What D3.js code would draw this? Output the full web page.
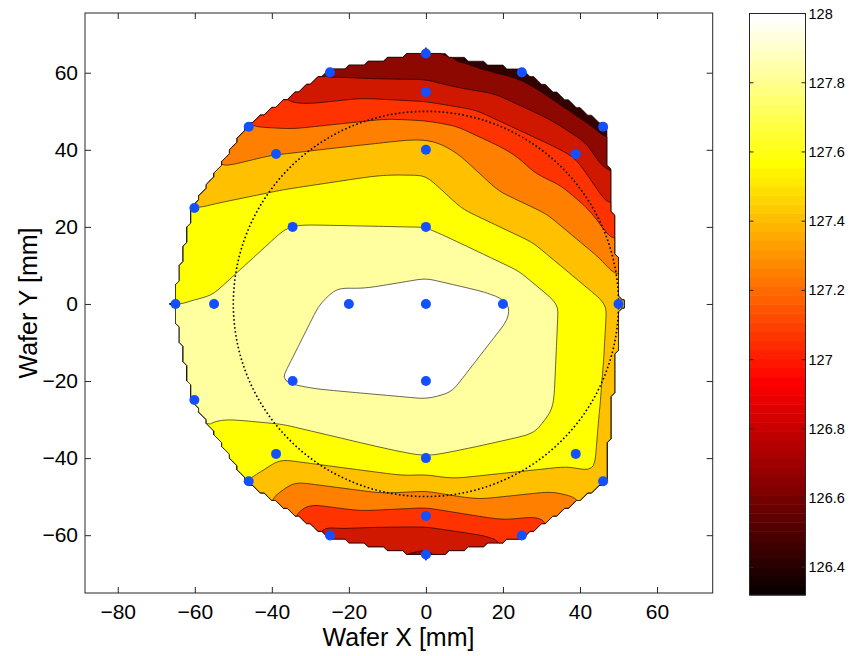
<!DOCTYPE html>
<html lang="en">
<head>
    <meta charset="utf-8">
    <title>Wafer map</title>
    <script type="text/javascript" src="https://cdn.jsdelivr.net/npm/d3@7"></script>
    <style>
        body { margin: 0; background: #fff; }
        text { font-family: "Liberation Sans", Arial, Helvetica, sans-serif; }
    </style>
</head>
<body>
    <svg width="852" height="656"></svg>
    <script>
        // measurement sites [mm] and measured values
        var siteX = [0, 20, 0, -20, 0, 0, -34.6, -34.6, 0, 50, 38.9, 0, -38.9, -55, -38.9, 0, 38.9,
                     0, 24.9, 46, -24.9, -46, -60.1, -65, -60.1, -46, -24.9, 0, 24.9, 46];
        var siteY = [0, 0, 20, 0, -20, 40, 20, -20, -40, 0, 38.9, 55, 38.9, 0, -38.9, -55, -38.9,
                     65, 60.1, 46, 60.1, 46, 24.9, 0, -24.9, -46, -60.1, -65, -60.1, -46];
        var siteZ = [127.9, 127.83, 127.6, 127.85, 127.86, 127.3, 127.61, 127.82, 127.6, 127.35, 126.78, 126.7, 127.2, 127.62, 127.45, 126.9, 127.5,
                     126.39, 126.33, 126.32, 126.55, 127.0, 127.4, 127.6, 127.68, 127.4, 126.72, 126.55, 126.85, 127.35];

        var levels = [126.4, 126.6, 126.8, 127.0, 127.2, 127.4, 127.6, 127.8];
        var bandColors = ["#330000", "#8c0800", "#d01800", "#ff3300", "#ff7f00", "#ffc000", "#ffff00", "#ffffa0", "#ffffff"];
        var climits = [126.32, 128.0];
        var xTicks = [-80, -60, -40, -20, 0, 20, 40, 60];
        var yTicks = [-60, -40, -20, 0, 20, 40, 60];
        var cbTicks = [126.4, 126.6, 126.8, 127, 127.2, 127.4, 127.6, 127.8, 128];
        var waferRadius = 50;

        var svg = d3.select("svg");
        var x = d3.scaleLinear().domain([-88.5, 74.45]).range([85, 712.7]);
        var y = d3.scaleLinear().domain([-75.0, 75.5]).range([593, 13]);

        // linear interpolation on the Delaunay triangulation of the sites (inside the hull only)
        var sites = siteX.map(function (d, i) { return [d, siteY[i]]; });
        var tri = d3.Delaunay.from(sites).triangles;
        var NODATA = -1e4;
        function interp(px, py) {
            for (var t = 0; t < tri.length; t += 3) {
                var a = tri[t], b = tri[t + 1], c = tri[t + 2];
                var x1 = siteX[a], y1 = siteY[a], x2 = siteX[b], y2 = siteY[b], x3 = siteX[c], y3 = siteY[c];
                var det = (y2 - y3) * (x1 - x3) + (x3 - x2) * (y1 - y3);
                var l1 = ((y2 - y3) * (px - x3) + (x3 - x2) * (py - y3)) / det;
                var l2 = ((y3 - y1) * (px - x3) + (x1 - x3) * (py - y3)) / det;
                var l3 = 1 - l1 - l2;
                if (l1 >= -0.01 && l2 >= -0.01 && l3 >= -0.01) return l1 * siteZ[a] + l2 * siteZ[b] + l3 * siteZ[c];
            }
            return NODATA;
        }

        var step = 1, gx0 = -66, gy0 = 66, nx = 118, ny = 133;
        var grid = new Array(nx * ny);
        for (var j = 0; j < ny; j++)
            for (var i = 0; i < nx; i++)
                grid[j * nx + i] = interp(gx0 + i * step, gy0 - j * step);

        // grow the filled area by one cell so the edge sites sit on it
        function grow(src) {
            var out = src.slice();
            for (var j = 0; j < ny; j++) {
                for (var i = 0; i < nx; i++) {
                    if (src[j * nx + i] !== NODATA) continue;
                    var s = 0, c = 0;
                    [[1, 0], [-1, 0], [0, 1], [0, -1]].forEach(function (o) {
                        var ii = i + o[0], jj = j + o[1];
                        if (ii < 0 || jj < 0 || ii >= nx || jj >= ny) return;
                        var v = src[jj * nx + ii];
                        if (v !== NODATA) { s += v; c++; }
                    });
                    if (c) out[j * nx + i] = s / c;
                }
            }
            return out;
        }

        // light smoothing, only over cells that hold data
        function maskedBlur(src, r) {
            var out = src.slice();
            for (var j = 0; j < ny; j++) {
                for (var i = 0; i < nx; i++) {
                    if (src[j * nx + i] === NODATA) continue;
                    var s = 0, c = 0;
                    for (var dj = -r; dj <= r; dj++) {
                        for (var di = -r; di <= r; di++) {
                            var ii = i + di, jj = j + dj;
                            if (ii < 0 || jj < 0 || ii >= nx || jj >= ny) continue;
                            var v = src[jj * nx + ii];
                            if (v === NODATA) continue;
                            s += v; c++;
                        }
                    }
                    out[j * nx + i] = s / c;
                }
            }
            return out;
        }
        grid = maskedBlur(maskedBlur(maskedBlur(grow(grid), 1), 1), 1);

        var bandColor = d3.scaleThreshold().domain(levels).range(bandColors);
        var contours = d3.contours().size([nx, ny]).thresholds([climits[0] - 1].concat(levels))(grid);
        var path = d3.geoPath(d3.geoTransform({
            point: function (gx, gy) {
                this.stream.point(x(gx0 + (gx - 0.5) * step), y(gy0 - (gy - 0.5) * step));
            }
        }));
        svg.append("g").selectAll("path")
            .data(contours)
            .enter()
            .append("path")
            .attr("d", path)
            .attr("fill", function (d) { return bandColor(d.value); })
            .attr("stroke", "#000")
            .attr("stroke-width", 0.6)
            .attr("stroke-linejoin", "round");

        // wafer outline
        svg.append("circle")
            .attr("cx", x(0)).attr("cy", y(0))
            .attr("r", x(waferRadius) - x(0))
            .attr("fill", "none")
            .attr("stroke", "#000")
            .attr("stroke-width", 1.6)
            .attr("stroke-dasharray", "1.6,2.4");

        // measurement sites
        svg.append("g").selectAll("circle")
            .data(sites)
            .enter()
            .append("circle")
            .attr("cx", function (d) { return x(d[0]); })
            .attr("cy", function (d) { return y(d[1]); })
            .attr("r", 5)
            .attr("fill", "#1450ff");

        // axes
        function styleAxis(g) {
            g.select(".domain").remove();
            g.selectAll("line").attr("stroke", "#262626");
            g.selectAll("text").attr("font-size", 21).attr("fill", "#000").attr("font-family", null);
        }
        svg.append("g").attr("transform", "translate(0,593)")
            .call(d3.axisBottom(x).tickValues(xTicks).tickSize(-6).tickPadding(11)).call(styleAxis);
        svg.append("g").attr("transform", "translate(0,13)")
            .call(d3.axisTop(x).tickValues(xTicks).tickSize(-6).tickFormat("")).call(styleAxis);
        svg.append("g").attr("transform", "translate(85,0)")
            .call(d3.axisLeft(y).tickValues(yTicks).tickSize(-6).tickPadding(7)).call(styleAxis);
        svg.append("g").attr("transform", "translate(712.7,0)")
            .call(d3.axisRight(y).tickValues(yTicks).tickSize(-6).tickFormat("")).call(styleAxis);
        svg.append("rect")
            .attr("x", 85).attr("y", 13).attr("width", 627.7).attr("height", 580)
            .attr("fill", "none").attr("stroke", "#262626").attr("stroke-width", 1);

        svg.append("text")
            .attr("x", 398.5).attr("y", 646)
            .attr("text-anchor", "middle")
            .attr("font-size", 25)
            .text("Wafer X [mm]");
        svg.append("text")
            .attr("transform", "translate(37,303) rotate(-90)")
            .attr("text-anchor", "middle")
            .attr("font-size", 25)
            .text("Wafer Y [mm]");

        // colorbar (hot, 64 entries)
        function hot(i, m) {
            var n1 = Math.floor(3 / 8 * m), n2 = n1, n3 = m - n1 - n2;
            var r = i < n1 ? (i + 1) / n1 : 1;
            var g = i < n1 ? 0 : (i < n1 + n2 ? (i - n1 + 1) / n2 : 1);
            var b = i < n1 + n2 ? 0 : (i - n1 - n2 + 1) / n3;
            return d3.rgb(r * 255, g * 255, b * 255).toString();
        }
        var cb = d3.scaleLinear().domain(climits).range([595, 13.5]);
        var nColors = 64;
        var cbX = 749.5, cbW = 56;
        var cbG = svg.append("g");
        cbG.selectAll("rect")
            .data(d3.range(nColors))
            .enter()
            .append("rect")
            .attr("x", cbX)
            .attr("width", cbW)
            .attr("y", function (i) { return cb(climits[0] + (i + 1) * (climits[1] - climits[0]) / nColors); })
            .attr("height", function (i) {
                return cb(climits[0] + i * (climits[1] - climits[0]) / nColors) - cb(climits[0] + (i + 1) * (climits[1] - climits[0]) / nColors) + 0.5;
            })
            .attr("fill", function (i) { return hot(i, nColors); });
        svg.append("rect")
            .attr("x", cbX).attr("y", cb(climits[1])).attr("width", cbW).attr("height", cb(climits[0]) - cb(climits[1]))
            .attr("fill", "none").attr("stroke", "#262626").attr("stroke-width", 1);
        var cbTick = svg.append("g").selectAll("g").data(cbTicks).enter().append("g");
        cbTick.append("line")
            .attr("x1", cbX).attr("x2", cbX + 4)
            .attr("y1", function (d) { return cb(d); }).attr("y2", function (d) { return cb(d); })
            .attr("stroke", "#262626");
        cbTick.append("line")
            .attr("x1", cbX + cbW - 4).attr("x2", cbX + cbW)
            .attr("y1", function (d) { return cb(d); }).attr("y2", function (d) { return cb(d); })
            .attr("stroke", "#262626");
        cbTick.append("text")
            .attr("x", cbX + cbW + 3)
            .attr("y", function (d) { return cb(d); })
            .attr("dy", "0.35em")
            .attr("font-size", 14.5)
            .text(function (d) { return d3.format("")(d); });
    </script>
</body>
</html>
